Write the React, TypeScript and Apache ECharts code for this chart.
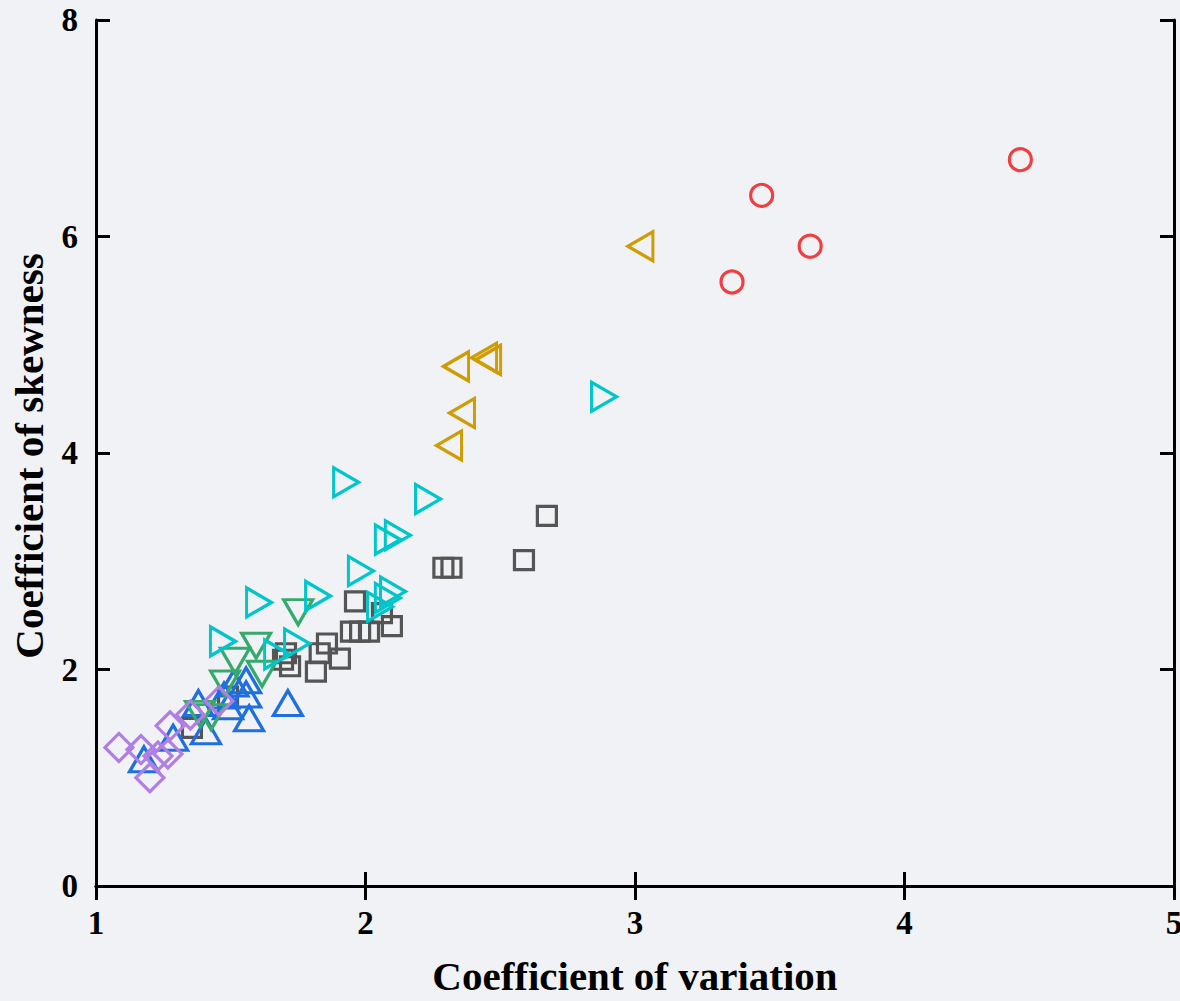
import React, { useEffect, useRef } from "react";
import * as echarts from "echarts";

const xTicks = [1, 2, 3, 4, 5];
const yTicks = [0, 2, 4, 6, 8];

const redCircles: number[][] = [
  [4.43, 6.71], [3.47, 6.38], [3.65, 5.91], [3.36, 5.58],
];
const orangeLeft: number[][] = [
  [3.02, 5.91], [2.336, 4.8], [2.44, 4.88], [2.455, 4.86], [2.358, 4.37], [2.31, 4.07],
];
const cyanRight: number[][] = [
  [2.885, 4.52], [1.928, 3.73], [2.232, 3.575], [2.083, 3.2], [2.12, 3.24],
  [1.983, 2.91], [2.054, 2.58], [2.083, 2.66], [2.102, 2.72], [1.824, 2.68],
  [1.605, 2.62], [1.471, 2.26], [1.746, 2.24], [1.672, 2.14],
];
const greenDown: number[][] = [
  [1.75, 2.53], [1.594, 2.22], [1.516, 2.08], [1.616, 1.96], [1.479, 1.87],
  [1.386, 1.59], [1.427, 1.56],
];
const blueUp: number[][] = [
  [1.712, 1.69], [1.568, 1.55], [1.408, 1.43], [1.557, 1.9], [1.51, 1.87],
  [1.557, 1.77], [1.475, 1.76], [1.38, 1.69], [1.49, 1.66], [1.286, 1.37], [1.178, 1.17],
];
const purpleDiamonds: number[][] = [
  [1.085, 1.28], [1.167, 1.26], [1.2, 1.0], [1.23, 1.2], [1.267, 1.22],
  [1.275, 1.48], [1.35, 1.58], [1.456, 1.71],
];
const graySquares: number[][] = [
  [2.673, 3.42], [2.588, 3.01], [2.289, 2.94], [2.319, 2.94], [1.961, 2.63],
  [2.061, 2.52], [2.098, 2.4], [1.946, 2.35], [1.98, 2.35], [2.013, 2.35],
  [1.857, 2.24], [1.83, 2.15], [1.905, 2.1], [1.816, 1.98], [1.694, 2.09],
  [1.72, 2.03], [1.705, 2.15], [1.356, 1.46], [1.49, 1.75],
];

const FONT = "'Liberation Serif', 'Times New Roman', serif";

function mk(name: string, data: number[][], color: string, symbol: string, size: any, rotate = 0) {
  return {
    name,
    type: "scatter",
    data,
    symbol,
    symbolSize: size,
    symbolRotate: rotate,
    itemStyle: { color: "transparent", borderColor: color, borderWidth: 3.2, opacity: 1 },
    emphasis: { disabled: true },
  };
}

export default function App() {
  const ref = useRef<HTMLDivElement>(null);
  useEffect(() => {
    if (!ref.current) return;
    const chart = echarts.init(ref.current, null, { renderer: "svg" });
    const axisLine = { show: true, lineStyle: { color: "#000", width: 3 } };
    const tick = { show: true, inside: true, length: 14, lineStyle: { color: "#000", width: 3 } };
    const label = { color: "#000", fontFamily: FONT, fontWeight: "bold", fontSize: 33 };
    chart.setOption({
      animation: false,
      backgroundColor: "#f1f2f5",
      grid: { left: 96, right: 6, top: 20, bottom: 115, outerBoundsMode: "none", containLabel: false },
      xAxis: [
        {
          type: "value", min: xTicks[0], max: xTicks[xTicks.length - 1], interval: 1,
          axisLine, axisTick: tick, splitLine: { show: false },
          axisLabel: { ...label, margin: 20 },
        },
        {
          type: "value", position: "top", min: xTicks[0], max: xTicks[xTicks.length - 1], interval: 1,
          axisLine, axisTick: tick, splitLine: { show: false }, axisLabel: { show: false },
        },
      ],
      yAxis: [
        {
          type: "value", min: yTicks[0], max: yTicks[yTicks.length - 1], interval: 2,
          axisLine, axisTick: tick, splitLine: { show: false },
          axisLabel: { ...label, margin: 18 },
        },
        {
          type: "value", position: "right", min: yTicks[0], max: yTicks[yTicks.length - 1], interval: 2,
          axisLine, axisTick: tick, splitLine: { show: false }, axisLabel: { show: false },
        },
      ],
      graphic: [
        {
          type: "text", x: 635, y: 976,
          style: {
            text: "Coefficient of variation", fill: "#000",
            font: `bold 41px ${FONT}`, textAlign: "center", textVerticalAlign: "middle",
          },
        },
        {
          type: "text", x: 29, y: 456, rotation: Math.PI / 2,
          style: {
            text: "Coefficient of skewness", fill: "#000",
            font: `bold 41px ${FONT}`, textAlign: "center", textVerticalAlign: "middle",
          },
        },
      ],
      series: [
        mk("Gray", graySquares, "#555555", "rect", 19),
        mk("Blue", blueUp, "#1f6fe0", "triangle", [29, 25]),
        mk("Green", greenDown, "#36a96c", "triangle", [29, 25], 180),
        mk("Cyan", cyanRight, "#00c6cc", "triangle", [29, 25], -90),
        mk("Orange", orangeLeft, "#cf9c04", "triangle", [29, 25], 90),
        mk("Red", redCircles, "#ee4040", "circle", 22),
        mk("Purple", purpleDiamonds, "#b07ee4", "diamond", [28, 28]),
      ],
    });
    return () => chart.dispose();
  }, []);
  return (
    <div
      ref={ref}
      style={{ position: "fixed", left: 0, top: 0, width: 1180, height: 1001 }}
    />
  );
}
